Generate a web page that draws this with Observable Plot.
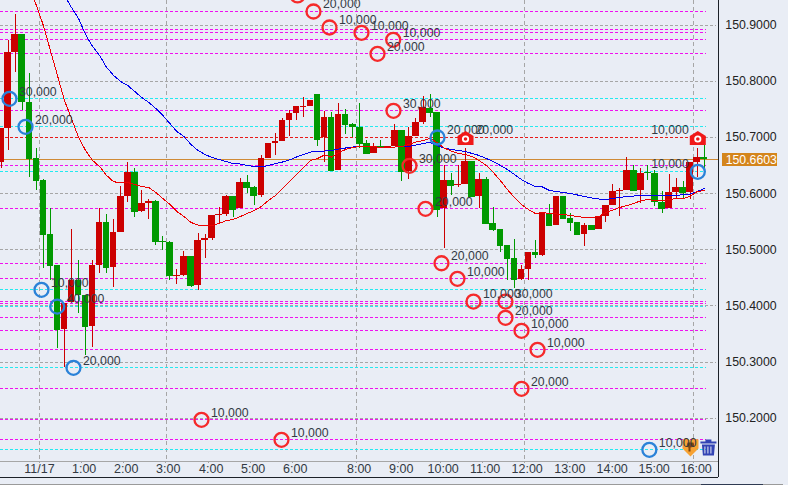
<!DOCTYPE html>
<html><head><meta charset="utf-8">
<style>html,body{margin:0;padding:0;background:#e9edf5;overflow:hidden}svg{display:block}</style>
<script src="https://cdn.jsdelivr.net/npm/d3@7"></script>
<script src="https://cdn.jsdelivr.net/npm/@observablehq/plot@0.6"></script>
</head><body><div id="chart"></div>
<script>
const open=[150.6554,150.7165,150.8519,150.8834,150.7623,150.6626,150.6234,150.5272,150.4720,150.3580,150.4060,150.4452,150.4185,150.3638,150.4720,150.5491,150.4689,150.5313,150.5949,150.6376,150.5681,150.5824,150.5860,150.5147,150.5135,150.4524,150.4541,150.4880,150.4363,150.5165,150.5201,150.5610,150.5628,150.5949,150.5735,150.6198,150.6114,150.5966,150.6626,150.6893,150.6928,150.7302,150.7427,150.7534,150.7552,150.7766,150.7000,150.7356,150.6412,150.7409,150.7231,150.7178,150.6887,150.6715,150.6839,150.6821,150.6839,150.7124,150.6394,150.7017,150.7267,150.7516,150.7445,150.5730,150.6234,150.6145,150.6162,150.6572,150.5949,150.6251,150.5468,150.5361,150.5076,150.4844,150.4470,150.4648,150.4951,150.4898,150.5646,150.5432,150.5949,150.5557,150.5486,150.5272,150.5432,150.5361,150.5592,150.5788,150.6038,150.6056,150.6412,150.6056,150.6376,150.6358,150.5842,150.5735,150.6020,150.6109,150.6020,150.6554,150.6643];
const high=[150.7160,150.8727,150.9191,150.8834,150.8140,150.6804,150.6251,150.5735,150.4720,150.4043,150.5361,150.4809,150.4185,150.4809,150.5735,150.5628,150.5539,150.6127,150.6554,150.6447,150.6056,150.5895,150.5877,150.5236,150.5147,150.4643,150.4974,150.4880,150.5290,150.5272,150.5610,150.5758,150.5966,150.5949,150.6275,150.6323,150.6127,150.6679,150.6893,150.7071,150.7338,150.7481,150.7552,150.7712,150.7659,150.7766,150.7463,150.7445,150.7605,150.7498,150.7249,150.7605,150.6946,150.6887,150.6946,150.6839,150.7231,150.7124,150.7178,150.7338,150.7730,150.7766,150.7445,150.6501,150.6358,150.6501,150.6804,150.6572,150.6358,150.6292,150.5758,150.5361,150.5076,150.5183,150.4720,150.4951,150.5165,150.5646,150.5806,150.5949,150.5949,150.5646,150.5486,150.5468,150.5432,150.5592,150.5788,150.6162,150.6091,150.6649,150.6501,150.6447,150.6501,150.6412,150.6038,150.6341,150.6269,150.6216,150.6554,150.6804,150.6857];
const low=[150.6447,150.6768,150.8163,150.7481,150.6292,150.6056,150.4666,150.4452,150.3241,150.2908,150.4060,150.3865,150.3116,150.3264,150.4577,150.4577,150.4333,150.5307,150.5847,150.5580,150.5664,150.5539,150.5076,150.4987,150.4452,150.4381,150.4524,150.4333,150.4274,150.4850,150.5165,150.5473,150.5592,150.5575,150.5735,150.6002,150.5788,150.5936,150.6626,150.6679,150.6928,150.7017,150.7302,150.7361,150.7552,150.6839,150.6560,150.6394,150.6412,150.7053,150.7000,150.6804,150.6697,150.6715,150.6804,150.6804,150.6839,150.6216,150.6251,150.7017,150.7231,150.7356,150.5569,150.5022,150.5966,150.6114,150.6162,150.5931,150.5735,150.5450,150.5325,150.4951,150.4452,150.4310,150.4452,150.4452,150.4844,150.4880,150.5414,150.5432,150.5539,150.5330,150.5254,150.5058,150.5343,150.5361,150.5486,150.5788,150.5592,150.6056,150.6043,150.5824,150.6234,150.5776,150.5646,150.5735,150.5913,150.5913,150.5895,150.6292,150.6358];
const close=[150.7160,150.8514,150.8834,150.7623,150.6608,150.6221,150.5254,150.4707,150.3562,150.4043,150.4452,150.4185,150.3620,150.4720,150.5491,150.4671,150.5313,150.5949,150.6376,150.5664,150.5824,150.5860,150.5135,150.5124,150.4529,150.4541,150.4880,150.4351,150.5165,150.5201,150.5610,150.5628,150.5949,150.5699,150.6198,150.6096,150.5949,150.6626,150.6893,150.6928,150.7302,150.7427,150.7552,150.7552,150.7659,150.6946,150.7356,150.6394,150.7409,150.7213,150.7178,150.6875,150.6697,150.6839,150.6821,150.6839,150.7124,150.6381,150.7017,150.7267,150.7534,150.7427,150.5699,150.6234,150.6127,150.6162,150.6572,150.5936,150.6251,150.5450,150.5343,150.5058,150.4826,150.4452,150.4648,150.4951,150.4898,150.5646,150.5414,150.5949,150.5539,150.5468,150.5254,150.5432,150.5343,150.5592,150.5788,150.6038,150.6056,150.6412,150.6043,150.6358,150.6358,150.5842,150.5722,150.6020,150.6109,150.6007,150.6554,150.6643,150.6603];
const shortAvgStart=4;
const shortAvg=[150.9707,150.9351,150.8995,150.8549,150.8104,150.7659,150.7338,150.7000,150.6768,150.6590,150.6483,150.6323,150.6210,150.6198,150.6198,150.6162,150.6127,150.6109,150.6020,150.5913,150.5806,150.5681,150.5592,150.5486,150.5441,150.5432,150.5432,150.5468,150.5521,150.5539,150.5592,150.5646,150.5699,150.5771,150.5877,150.5966,150.6091,150.6216,150.6341,150.6465,150.6590,150.6626,150.6688,150.6652,150.6732,150.6786,150.6821,150.6839,150.6839,150.6834,150.6827,150.6827,150.6830,150.6839,150.6875,150.6919,150.6946,150.6982,150.6911,150.6813,150.6759,150.6715,150.6697,150.6661,150.6590,150.6501,150.6376,150.6234,150.6073,150.5931,150.5806,150.5717,150.5646,150.5664,150.5646,150.5637,150.5628,150.5610,150.5592,150.5575,150.5575,150.5592,150.5664,150.5708,150.5753,150.5788,150.5824,150.5877,150.5895,150.5877,150.5877,150.5895,150.5913,150.5913,150.5949,150.6038,150.6056];
const longAvgStart=9;
const longAvg=[150.9529,150.9315,150.9119,150.8834,150.8621,150.8460,150.8247,150.8104,150.7997,150.7926,150.7819,150.7712,150.7623,150.7516,150.7392,150.7249,150.7106,150.7017,150.6875,150.6768,150.6697,150.6643,150.6608,150.6572,150.6536,150.6527,150.6501,150.6483,150.6474,150.6501,150.6536,150.6563,150.6599,150.6652,150.6697,150.6741,150.6750,150.6759,150.6768,150.6795,150.6813,150.6830,150.6839,150.6839,150.6834,150.6827,150.6827,150.6830,150.6836,150.6839,150.6866,150.6893,150.6911,150.6857,150.6813,150.6786,150.6768,150.6750,150.6715,150.6679,150.6626,150.6572,150.6501,150.6430,150.6341,150.6251,150.6180,150.6127,150.6118,150.6056,150.6038,150.6020,150.6002,150.5975,150.5949,150.5922,150.5904,150.5895,150.5913,150.5931,150.5949,150.5957,150.5966,150.5966,150.5966,150.5966,150.5966,150.5966,150.5984,150.5993,150.6038,150.6091];

const priceTicks=[150.2,150.3,150.4,150.5,150.6,150.7,150.8,150.9];
const lastPrice=150.6603;
const redLevel=[150.7];
const magentaLevels=[150.9244,150.8923,150.8865,150.8740,150.8491,150.7475,150.6495,150.5730,150.4760,150.4483,150.4078,150.4043,150.3788,150.3556,150.3218,150.2523,150.1971,150.1615];
const cyanLevels=[150.7689,150.7190,150.6389,150.4287,150.3989,150.2897,150.1437];

const hourNames=["11/17","1:00","2:00","3:00","4:00","5:00","6:00","8:00","9:00","10:00","11:00","12:00","13:00","14:00","15:00","16:00"];
const hourIndex=[5.49,11.47,17.44,23.42,29.53,35.5,41.48,50.58,56.56,62.53,68.5,74.48,80.55,86.57,92.54,98.52];
const hourLabelIndex=[5.44,11.8,17.78,23.76,29.87,35.84,41.82,50.92,56.9,62.87,68.84,74.82,80.89,86.91,92.88,98.86];
const dashedHours=[5.49,23.55,50.58,74.48,98.52];

const blueX=[1.18,3.46,5.73,7.97,10.28,62.06,92.2];
const blueP=[150.7689,150.7190,150.4287,150.3989,150.2897,150.7000,150.1437];
const blueAmt=["30,000","20,000","10,000","40,000","20,000","20,000","10,000"];
const blueLeftX=[99.09];
const blueLeftP=[150.6389];
const blueLeftAmt=["10,000"];
const redX=[42.15,44.42,46.7,51.25,55.76,53.53,55.8,58.08,60.36,62.63,64.9,67.18,71.73,71.73,74.01,76.29,74.01,28.49,39.87];
const redP=[150.9530,150.9244,150.8959,150.8865,150.8740,150.8491,150.7475,150.6495,150.5730,150.4760,150.4483,150.4078,150.4078,150.3788,150.3556,150.3218,150.2523,150.1971,150.1615];
const redAmt=["","20,000","10,000","10,000","10,000","20,000","30,000","30,000","20,000","20,000","10,000","10,000","30,000","20,000","10,000","10,000","20,000","10,000","10,000"];
const houseX=[66.05,99.09];
const houseP=[150.6982,150.6982];
const houseAmt=["20,000","10,000"];
const shieldX=[98.05], trashX=[100.6], iconP=[150.148];

const ink="#333a44", font="'Liberation Sans',Arial,sans-serif";
const fs=12.3;
const ids=d3.range(open.length);
const up=ids.filter(i=>close[i]>=open[i]), down=ids.filter(i=>close[i]<open[i]);
const pts=(xs,ps,amts)=>xs.map((x,k)=>({x,p:ps[k],a:amts?amts[k]:""}));
const crisp={shapeRendering:"crispEdges"};
const levelRule=(vals,stroke,x2)=>Plot.ruleY(vals,{y:d=>d,x1:-0.1,x2,stroke,strokeWidth:1,strokeDasharray:"3,2",...crisp});

const house={draw(c){c.moveTo(0,-7.5);c.lineTo(8,-2.5);c.lineTo(8,6.5);c.lineTo(-8,6.5);c.lineTo(-8,-2.5);c.closePath();}};
const shield={draw(c){c.moveTo(-8,-8);c.lineTo(-3,-9);c.lineTo(0,-7);c.lineTo(3,-9);c.lineTo(8,-8);c.lineTo(8,1);c.lineTo(0,9);c.lineTo(-8,1);c.closePath();}};
const glyph={draw(c){c.moveTo(-3,-5);c.lineTo(3,-5);c.lineTo(4,-1);c.lineTo(0,0);c.lineTo(0,4);c.lineTo(-2,4);c.lineTo(-2,0);c.lineTo(-4,-1);c.closePath();}};
const bin={draw(c){
  c.moveTo(-8,-6);c.lineTo(8,-6);c.lineTo(8,-4);c.lineTo(-8,-4);c.closePath();
  c.moveTo(-3,-8);c.lineTo(3,-8);c.lineTo(3,-6);c.lineTo(-3,-6);c.closePath();
  c.moveTo(-6.5,-3);c.lineTo(6.5,-3);c.lineTo(5.5,8);c.lineTo(-5.5,8);c.closePath();
  for(const s of [-4,-1,2]){c.moveTo(s,-1);c.lineTo(s,6);c.lineTo(s+1,6);c.lineTo(s+1,-1);c.closePath();}
}};

const chart=Plot.plot({
  width:788,height:485,margin:0,
  style:{background:"#e9edf5",fontFamily:font,overflow:"hidden"},
  x:{type:"linear",domain:[0,100],range:[0.7,703.7],axis:null},
  y:{type:"linear",domain:[150.9,150.2],range:[24.7,417.7],axis:null},
  marks:[
    Plot.ruleX(dashedHours,{x:d=>d,y1:150.944,y2:150.1240,stroke:"#a6a6a6",strokeDasharray:"4,3",...crisp}),
    levelRule(priceTicks,"#a6a6a6",101.75),
    levelRule(cyanLevels,"#22eaf0",100.3),
    levelRule(magentaLevels,"#f010f0",100.3),
    levelRule(redLevel,"#e81818",100.3),
    Plot.ruleY([lastPrice],{x1:-0.1,x2:102.0,stroke:"#cf8a35",...crisp}),
    Plot.ruleX(up,{x:i=>i,y1:i=>low[i],y2:i=>high[i],stroke:"#cc0000",...crisp}),
    Plot.ruleX(down,{x:i=>i,y1:i=>low[i],y2:i=>high[i],stroke:"#009900",...crisp}),
    Plot.rect(up,{x1:i=>i-0.47,x2:i=>i+0.47,y1:i=>open[i],y2:i=>close[i],fill:"#cc0000",...crisp}),
    Plot.rect(down,{x1:i=>i-0.47,x2:i=>i+0.47,y1:i=>open[i],y2:i=>close[i],fill:"#009900",...crisp}),
    Plot.line(longAvg,{x:(d,k)=>k+longAvgStart,y:d=>d,stroke:"#0000ee",strokeWidth:1,...crisp}),
    Plot.line(shortAvg,{x:(d,k)=>k+shortAvgStart,y:d=>d,stroke:"#ee0000",strokeWidth:1,...crisp}),
    // axis frame
    Plot.ruleY([150.1228],{x1:-0.1,x2:102.03,stroke:"#a6a6a6",...crisp}),
    Plot.ruleX(hourIndex,{x:d=>d,y1:150.1228,y2:150.1192,stroke:"#a6a6a6",...crisp}),
    Plot.ruleY([150.0944],{x1:-0.1,x2:102.03,stroke:"#1c2128",strokeWidth:1,...crisp}),
    Plot.ruleX([102.03],{y1:150.944,y2:150.0944,stroke:"#1c2128",...crisp}),
    Plot.ruleY([150.0818],{x1:-0.1,x2:111.3,stroke:"#9a9a9a",...crisp}),
    Plot.ruleY([150.0818],{x1:99.6,x2:108.4,stroke:"#2f3b52",...crisp}),
    Plot.text(hourNames,{x:(d,k)=>hourLabelIndex[k],y:150.1100,text:d=>d,fontSize:12.5,fill:ink,textAnchor:"middle",lineAnchor:"middle"}),
    Plot.text(priceTicks,{x:103,y:d=>d,text:d=>d.toFixed(4),fontSize:fs,fill:"#222",textAnchor:"start",lineAnchor:"middle"}),
    Plot.rect([lastPrice],{x1:102.6,x2:110.4,y1:150.6712,y2:150.6486,fill:"#d4851c",...crisp}),
    Plot.text([lastPrice],{x:103.05,y:d=>d,text:d=>d.toFixed(4),fontSize:fs,fill:"#fff",textAnchor:"start",lineAnchor:"middle"}),
    // icons under the labels
    Plot.dot(shieldX,{x:d=>d,y:iconP[0],symbol:shield,r:6,fill:"#f7a233",stroke:"none"}),
    Plot.dot(shieldX,{x:d=>d,y:iconP[0],symbol:glyph,r:3,fill:"#7a4412",stroke:"none"}),
    Plot.dot(trashX,{x:d=>d,y:iconP[0],symbol:bin,r:6,fill:"#3344b4",stroke:"none"}),
    // executions
    Plot.dot(pts(blueX,blueP),{x:"x",y:"p",r:7,fill:"none",stroke:"#2a82d8",strokeWidth:2.3}),
    Plot.dot(pts(blueLeftX,blueLeftP),{x:"x",y:"p",r:7,fill:"none",stroke:"#2a82d8",strokeWidth:2.3}),
    Plot.dot(pts(redX,redP),{x:"x",y:"p",r:7,fill:"none",stroke:"#f52a2a",strokeWidth:2.3}),
    Plot.text(pts(blueX,blueP,blueAmt),{x:"x",y:"p",text:"a",dx:9.5,dy:-7,fontSize:fs,fill:ink,textAnchor:"start",lineAnchor:"middle"}),
    Plot.text(pts(blueLeftX,blueLeftP,blueLeftAmt),{x:"x",y:"p",text:"a",dx:-9,dy:-7.5,fontSize:fs,fill:ink,textAnchor:"end",lineAnchor:"middle"}),
    Plot.text(pts(redX,redP,redAmt).filter(d=>d.a),{x:"x",y:"p",text:"a",dx:9.5,dy:-7,fontSize:fs,fill:ink,textAnchor:"start",lineAnchor:"middle"}),
    Plot.dot(pts(houseX,houseP),{x:"x",y:"p",symbol:house,r:6,fill:"#f01818",stroke:"none"}),
    Plot.dot(pts(houseX,houseP),{x:"x",y:"p",r:3.6,fill:"#ffffff",stroke:"none",dy:0.5}),
    Plot.dot(pts(houseX,houseP),{x:"x",y:"p",r:1.8,fill:"#f01818",stroke:"none",dy:0.5}),
    Plot.text([pts(houseX,houseP,houseAmt)[0]],{x:"x",y:"p",text:"a",dx:10,dy:-8,fontSize:fs,fill:ink,textAnchor:"start",lineAnchor:"middle"}),
    Plot.text([pts(houseX,houseP,houseAmt)[1]],{x:"x",y:"p",text:"a",dx:-9,dy:-8,fontSize:fs,fill:ink,textAnchor:"end",lineAnchor:"middle"})
  ]
});
document.getElementById("chart").appendChild(chart);
</script></body></html>
